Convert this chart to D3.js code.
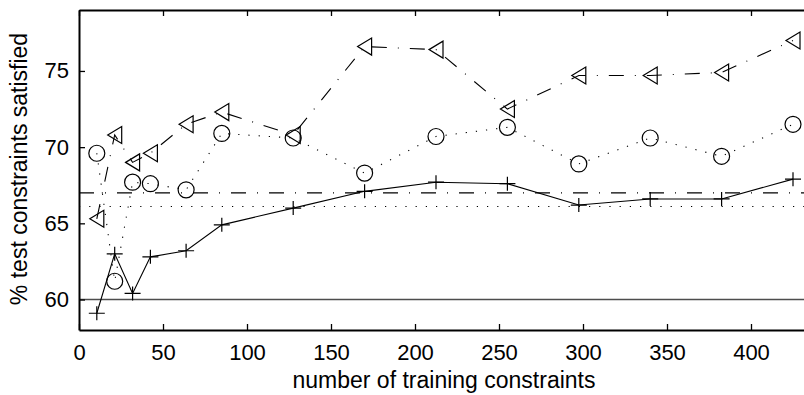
<!DOCTYPE html>
<html>
<head>
<meta charset="utf-8">
<script src="https://cdn.jsdelivr.net/npm/d3@7"></script>
<style>
  html, body { margin: 0; padding: 0; background: #fff; }
  svg { display: block; font-family: "Liberation Sans", Arial, sans-serif; }
</style>
</head>
<body>
<div id="chart"></div>
<script>
// training set sizes (x axis)
const trainSizes = [10.6, 21.25, 31.9, 42.5, 63.75, 85, 127.5, 170, 212.5, 255, 297.5, 340, 382.5, 425];

// series
const plusValues = [59.1, 63.0, 60.4, 62.8, 63.2, 64.9, 66.0, 67.1, 67.7, 67.6, 66.2, 66.6, 66.6, 67.9];
const circleValues = [69.6, 61.2, 67.7, 67.6, 67.2, 70.9, 70.6, 68.3, 70.7, 71.3, 68.9, 70.6, 69.4, 71.5];
const triangleValues = [65.3, 70.8, 69.0, 69.6, 71.5, 72.3, 70.8, 76.6, 76.4, 72.5, 74.7, 74.7, 74.9, 77.0];

// flat reference levels
const baselineSolid = 60;
const baselineDashDot = 67.0;
const baselineDotted = 66.1;

const xTicks = [0, 50, 100, 150, 200, 250, 300, 350, 400];
const yTicks = [60, 65, 70, 75];
const xDomain = [0, 440];
const yDomain = [58, 79];

const dims = { width: 804, height: 395 };
const margins = { left: 79, top: 10, bottom: 65 };

const x = d3.scaleLinear()
  .domain(xDomain)
  .range([margins.left, margins.left + (xDomain[1] - xDomain[0]) * 1.68]);

const y = d3.scaleLinear()
  .domain(yDomain)
  .range([dims.height - margins.bottom, margins.top]);

const svg = d3.select('#chart')
  .append('svg')
  .attr('width', dims.width)
  .attr('height', dims.height);

const plotW = x.range()[1];

// flat lines
function hline(v, dash, color, w) {
  svg.append('line')
    .attr('x1', x(xDomain[0])).attr('x2', plotW)
    .attr('y1', y(v)).attr('y2', y(v))
    .attr('stroke', color)
    .attr('stroke-width', w)
    .attr('stroke-dasharray', dash);
}
hline(baselineSolid, null, '#4d4d4d', 1.5);
hline(baselineDashDot, '15,11,1,11', '#000', 1.1);
hline(baselineDotted, '1.2,9', '#000', 1.1);

const line = d3.line()
  .x(d => x(d[0]))
  .y(d => y(d[1]));

const zip = vals => trainSizes.map((t, i) => [t, vals[i]]);

svg.append('path')
  .datum(zip(plusValues))
  .attr('d', line)
  .attr('fill', 'none')
  .attr('stroke', '#000')
  .attr('stroke-width', 1.1);

svg.append('path')
  .datum(zip(circleValues))
  .attr('d', line)
  .attr('fill', 'none')
  .attr('stroke', '#000')
  .attr('stroke-width', 1.1)
  .attr('stroke-dasharray', '1.2,9');

svg.append('path')
  .datum(zip(triangleValues))
  .attr('d', line)
  .attr('fill', 'none')
  .attr('stroke', '#000')
  .attr('stroke-width', 1.1)
  .attr('stroke-dasharray', '15,11,1,11');

// markers
svg.append('g')
  .selectAll('path')
  .data(zip(plusValues))
  .join('path')
    .attr('transform', d => `translate(${x(d[0])},${y(d[1])})`)
    .attr('d', 'M-8,0H8M0,-7V7')
    .attr('stroke', '#000')
    .attr('stroke-width', 1.2);

svg.append('g')
  .selectAll('circle')
  .data(zip(circleValues))
  .join('circle')
    .attr('cx', d => x(d[0]))
    .attr('cy', d => y(d[1]))
    .attr('r', 8)
    .attr('fill', 'none')
    .attr('stroke', '#000')
    .attr('stroke-width', 1.2);

svg.append('g')
  .selectAll('path')
  .data(zip(triangleValues))
  .join('path')
    .attr('transform', d => `translate(${x(d[0])},${y(d[1])})`)
    .attr('d', 'M-7,0L7,-8.5L7,8.5Z')
    .attr('fill', 'none')
    .attr('stroke', '#000')
    .attr('stroke-width', 1.2);

// axes
const xAxis = d3.axisBottom(x).tickValues(xTicks).tickSizeInner(-6).tickSizeOuter(0).tickPadding(14);
const xTop = d3.axisTop(x).tickValues(xTicks).tickSizeInner(-6).tickSizeOuter(0).tickFormat('');
const yAxis = d3.axisLeft(y).tickValues(yTicks).tickSizeInner(-6).tickSizeOuter(0).tickPadding(10);

const xAxisGroup = svg.append('g')
  .attr('transform', `translate(0,${y(yDomain[0])})`)
  .call(xAxis);

const xTopGroup = svg.append('g')
  .attr('transform', `translate(0,${y(yDomain[1])})`)
  .call(xTop);

const yAxisGroup = svg.append('g')
  .attr('transform', `translate(${x(0)},0)`)
  .call(yAxis);

[xAxisGroup, xTopGroup, yAxisGroup].forEach(g => {
  g.select('.domain').attr('stroke', '#000').attr('stroke-width', 2);
  g.selectAll('.tick line').attr('stroke', '#000').attr('stroke-width', 1.3);
  g.selectAll('.tick text')
    .attr('fill', '#000')
    .style('font-size', '22px')
    .style('font-family', '"Liberation Sans", Arial, sans-serif');
});

svg.append('text')
  .attr('x', 444)
  .attr('y', 388)
  .attr('text-anchor', 'middle')
  .style('font-size', '23px')
  .text('number of training constraints');

svg.append('text')
  .attr('transform', `translate(27,169) rotate(-90)`)
  .attr('text-anchor', 'middle')
  .style('font-size', '23px')
  .text('% test constraints satisfied');
</script>
</body>
</html>
